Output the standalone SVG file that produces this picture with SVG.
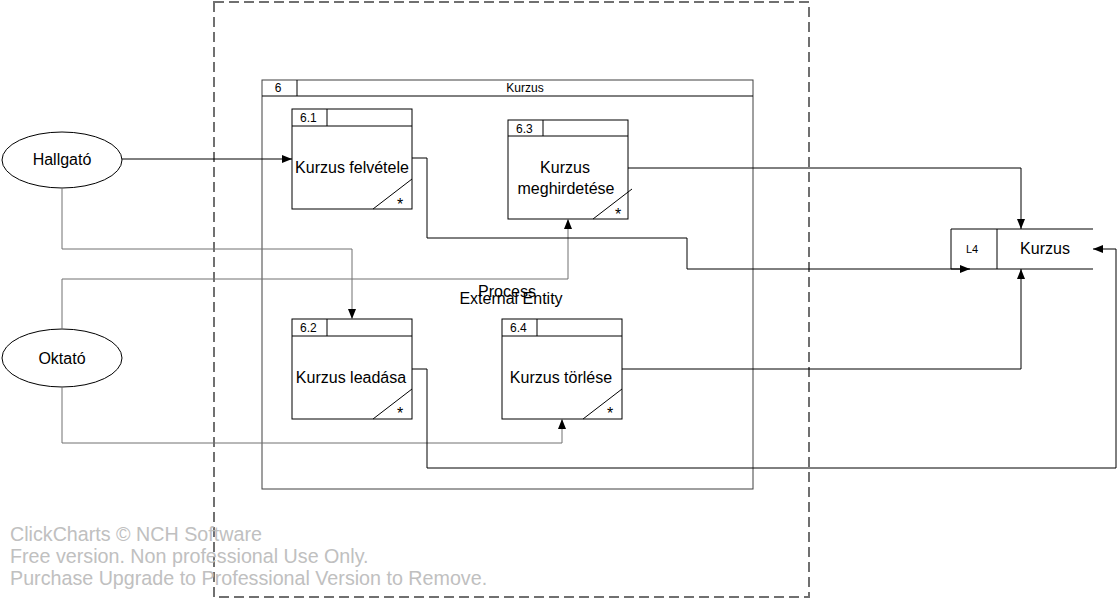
<svg xmlns="http://www.w3.org/2000/svg" width="1119" height="600" viewBox="0 0 1119 600">
<style>
text{font-family:"Liberation Sans",Arial,sans-serif;fill:#000}
.box{fill:#fff;stroke:#000;stroke-width:1}
.hdr{font-size:12px}
.lbl{font-size:16px;text-anchor:middle}
.st{font-size:16px;text-anchor:middle}
.ln{fill:none;stroke:#000;stroke-width:1}
.g{stroke:#707070}
.wm{font-size:19.7px;fill:#c0c0c0}
</style>
<defs>
<marker id="ah" viewBox="0 0 10 10" refX="10" refY="5" markerWidth="10" markerHeight="10" markerUnits="userSpaceOnUse" orient="auto">
<path d="M0,1 L10,5 L0,9 z" fill="#000"/>
</marker>
</defs>
<rect width="1119" height="600" fill="#fff"/>
<g id="boundary">
<rect x="214" y="2" width="595" height="595" fill="none" stroke="#707070" stroke-width="2" stroke-dasharray="10,5"/>
</g>
<g id="process-6">
<rect x="262" y="80" width="491" height="409" fill="#fff" stroke="#404040"/>
<line x1="262" y1="96" x2="753" y2="96" stroke="#000"/>
<line x1="297" y1="80" x2="297" y2="96" stroke="#000"/>
<text x="278" y="92" text-anchor="middle" font-size="12">6</text>
<text x="525" y="92" text-anchor="middle" font-size="12">Kurzus</text>
</g>
<g id="process-6-1">
<rect x="292" y="109" width="120" height="100" class="box"/>
<line x1="292" y1="126" x2="412" y2="126" stroke="#000"/>
<line x1="327" y1="109" x2="327" y2="126" stroke="#000"/>
<text x="300" y="122" class="hdr">6.1</text>
<text x="352" y="173" class="lbl">Kurzus felvétele</text>
<line x1="373" y1="209" x2="412" y2="179" stroke="#000"/>
<text x="400" y="210" class="st">*</text>
</g>
<g id="process-6-3">
<rect x="508" y="120" width="120" height="99" class="box"/>
<line x1="508" y1="136" x2="628" y2="136" stroke="#000"/>
<line x1="543" y1="120" x2="543" y2="136" stroke="#000"/>
<text x="516" y="133" class="hdr">6.3</text>
<text x="565" y="173" class="lbl">Kurzus</text>
<text x="566" y="194" class="lbl">meghirdetése</text>
<line x1="593" y1="219" x2="632" y2="189" stroke="#000"/>
<text x="618" y="220" class="st">*</text>
</g>
<g id="process-6-2">
<rect x="292" y="319" width="120" height="100" class="box"/>
<line x1="292" y1="336" x2="412" y2="336" stroke="#000"/>
<line x1="327" y1="319" x2="327" y2="336" stroke="#000"/>
<text x="300" y="332" class="hdr">6.2</text>
<text x="351" y="383" class="lbl">Kurzus leadása</text>
<line x1="373" y1="419" x2="412" y2="389" stroke="#000"/>
<text x="400" y="419" class="st">*</text>
</g>
<g id="process-6-4">
<rect x="502" y="319" width="120" height="100" class="box"/>
<line x1="502" y1="336" x2="622" y2="336" stroke="#000"/>
<line x1="537" y1="319" x2="537" y2="336" stroke="#000"/>
<text x="510" y="332" class="hdr">6.4</text>
<text x="561" y="383" class="lbl">Kurzus törlése</text>
<line x1="583" y1="419" x2="622" y2="389" stroke="#000"/>
<text x="610" y="419" class="st">*</text>
</g>
<g id="entity-hallgato">
<ellipse cx="62" cy="160" rx="60" ry="28" class="box"/>
<text x="62" y="165" class="lbl">Hallgató</text>
</g>
<g id="entity-oktato">
<ellipse cx="62" cy="358" rx="60" ry="29" class="box"/>
<text x="62" y="364" class="lbl">Oktató</text>
</g>
<g id="store-L4">
<rect x="951" y="229" width="142" height="40" fill="#fff" stroke="none"/>
<path d="M1093,229 H951 V269 H1093 M997,229 V269" class="ln"/>
<text x="972" y="253" font-size="11" text-anchor="middle">L4</text>
<text x="1045" y="254" class="lbl">Kurzus</text>
</g>
<g id="connectors">
<path d="M122,159 H292" class="ln" marker-end="url(#ah)"/>
<path d="M62,188 V249 H352 V319" class="ln g" marker-end="url(#ah)"/>
<path d="M62,329 V279 H568 V219" class="ln g" marker-end="url(#ah)"/>
<path d="M62,387 V443 H562 V419" class="ln g" marker-end="url(#ah)"/>
<path d="M412,158 H427 V238 H687 V269 H970" class="ln" marker-end="url(#ah)"/>
<path d="M628,168 H1021 V229" class="ln" marker-end="url(#ah)"/>
<path d="M622,369 H1021 V269" class="ln" marker-end="url(#ah)"/>
<path d="M412,369 H427 V468 H1116 V249 H1093" class="ln" marker-end="url(#ah)"/>
</g>
<g id="labels">
<text x="507" y="297" font-size="16" text-anchor="middle">Process</text>
<text x="511" y="304" font-size="16" text-anchor="middle">External Entity</text>
</g>
<g id="watermark">
<text x="10" y="541" class="wm">ClickCharts © NCH Software</text>
<text x="10" y="563" class="wm">Free version. Non professional Use Only.</text>
<text x="10" y="585" class="wm">Purchase Upgrade to Professional Version to Remove.</text>
</g>
</svg>
